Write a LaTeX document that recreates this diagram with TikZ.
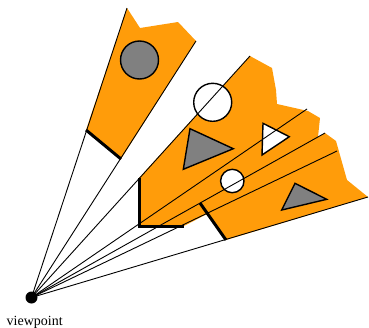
\documentclass[tikz,border=0pt]{standalone}
\usepackage{fontspec}
\setmainfont{Liberation Serif}
\definecolor{wedge}{HTML}{FF9C0A}
\tikzset{
  wedgefill/.style={fill=wedge,draw=none},
  ray/.style={draw=black,line width=0.9pt},
  wall/.style={draw=black,line width=3pt,line cap=butt,line join=miter},
  grayobj/.style={draw=black,fill=gray,line width=1.4pt},
  whiteobj/.style={draw=black,fill=white,line width=1.4pt},
}
\begin{document}
\begin{tikzpicture}[x=1pt,y=-1pt]
\useasboundingbox (0,0) rectangle (369,327);
\coordinate (vp) at (31.5,297.5);
\coordinate (a1) at (127,8);
\coordinate (a2) at (196,41);
\coordinate (a3) at (86,130);
\coordinate (a4) at (121,159);
\coordinate (b1) at (250,56);
\coordinate (b2) at (307,109);
\coordinate (b3) at (325,133);
\coordinate (b4) at (337,151);
\coordinate (b5) at (368,197);
\coordinate (c1) at (139,178);
\coordinate (c2) at (139,226);
\coordinate (c3) at (184,226);
\coordinate (d1) at (200,203);
\coordinate (d2) at (226,240);
% orange regions
\fill[wedgefill] (a1) -- (140,28) -- (178,22) -- (196,41) -- (a4) -- (a3) -- cycle;
\fill[wedgefill] (c1) -- (b1) -- (272,68) -- (276,90) -- (277,104) -- (308,111) -- (320,118) -- (318,137) -- (b3) -- (336,141) -- (347,180) -- (b5) -- (d2) -- (d1) -- (207,214) -- (c3) -- (c2) -- cycle;
% objects
\draw[grayobj] (139.5,60) circle (19);
\draw[whiteobj] (212.7,102.3) circle (19);
\draw[whiteobj] (232.3,181) circle (11.7);
\draw[grayobj] (190,128.7) -- (233.3,148.7) -- (183.3,169.3) -- cycle;
\draw[whiteobj] (263,123.3) -- (289.3,136.7) -- (262,155) -- cycle;
\draw[grayobj] (295,183.3) -- (326.7,199.3) -- (281.7,210) -- cycle;
% rays
\draw[ray] (vp) -- (a1);
\draw[ray] (vp) -- (a2);
\draw[ray] (vp) -- (b1);
\draw[ray] (vp) -- (b2);
\draw[ray] (vp) -- (b3);
\draw[ray] (vp) -- (b4);
\draw[ray] (vp) -- (b5);
% occluding walls
\draw[wall] (a3) -- (a4);
\draw[wall] (c1) -- (c2) -- (c3);
\draw[wall] (d1) -- (d2);
% viewpoint
\node[circle,fill=black,inner sep=0pt,minimum size=12pt] (vpdot) at (vp) {};
\node[anchor=base west,inner sep=0pt,font=\fontsize{14}{16}\selectfont] (vplabel) at (6.5,325) {viewpoint};
\end{tikzpicture}
\end{document}
